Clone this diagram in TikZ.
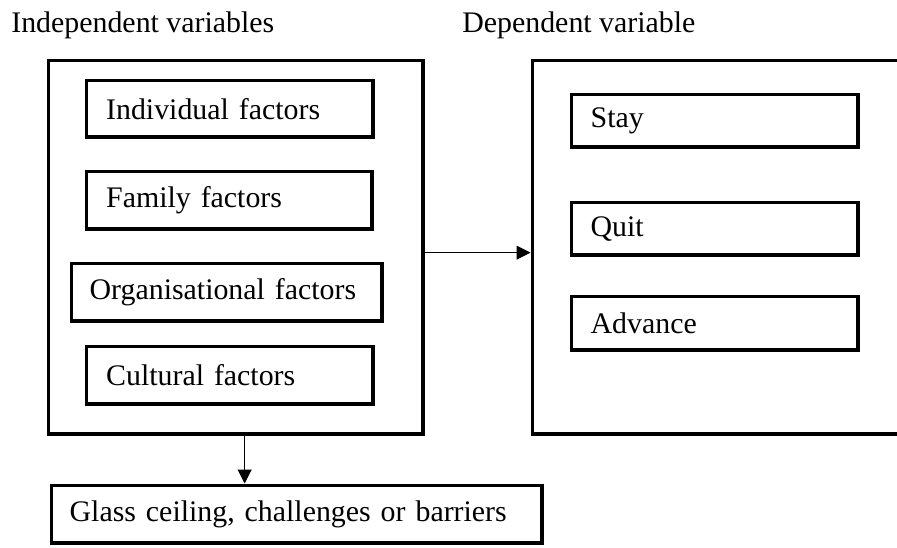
\documentclass[tikz,border=0pt]{standalone}
\usepackage{fontspec}
\setmainfont{Liberation Serif}
\usetikzlibrary{arrows.meta}

\begin{document}
\begin{tikzpicture}[x=0.02cm, y=-0.02cm, every node/.style={font=\fontsize{17}{20}\selectfont},
    outerbox/.style={draw, line width=1.9pt, anchor=north west, inner sep=0pt, minimum height=7.48cm},
    factorbox/.style={draw, line width=1.9pt, anchor=north west, align=left, inner ysep=0pt, inner xsep=0.4cm},
    heading/.style={anchor=base west, inner sep=0pt},
    link/.style={-{Triangle[length=0.28cm,width=0.28cm]}, line width=0.6pt}]
            \useasboundingbox (0,0) rectangle (897,548);
            % Headings
            \node[heading] (indeplabel) at (11,32) {Independent variables};
            \node[heading] (deplabel) at (462,32) {Dependent variable};
            %%%%%%%%%%%%%%% Independent variables box
            \node[outerbox, minimum width=7.5cm] (indep) at (46.5,58.5) {};
            \node[factorbox, text width=4.94cm, minimum height=1.14cm] (indiv) at (84.5,78.5) {Individual factors};
            \node[factorbox, text width=4.92cm, minimum height=1.16cm] (family) at (84.5,169.5) {Family factors};
            \node[factorbox, text width=5.48cm, minimum height=1.16cm, inner xsep=0.37cm] (organ) at (69.5,261.5) {Organisational factors};
            \node[factorbox, text width=4.94cm, minimum height=1.16cm] (cultural) at (84.5,344.5) {Cultural factors};
            %%%%%%%%%%%%%%% Dependent variable box
            \node[outerbox, minimum width=8cm] (dep) at (530.5,58.5) {};
            \node[factorbox, text width=4.96cm, minimum height=1.06cm, inner xsep=0.39cm] (stay) at (569.5,92.5) {Stay};
            \node[factorbox, text width=4.96cm, minimum height=1.06cm, inner xsep=0.39cm] (quit) at (569.5,200.5) {Quit};
            \node[factorbox, text width=4.96cm, minimum height=1.08cm, inner xsep=0.39cm] (advance) at (569.5,294.5) {Advance};
            %%%%%%%%%%%%%%% Barriers box
            \node[factorbox, text width=9.08cm, minimum height=1.16cm, inner xsep=0.37cm] (glass) at (49.5,483.5) {Glass ceiling, challenges or barriers};
            %%%%%%%%%%%%%%% Arrows
            \draw[link] ([yshift=-0.11cm]indep.east) -- ([yshift=-0.11cm]dep.west);
            \coordinate (down) at ([xshift=0.18cm]indep.south);
            \draw[link] (down) -- (glass.north -| down);
\end{tikzpicture}
\end{document}
